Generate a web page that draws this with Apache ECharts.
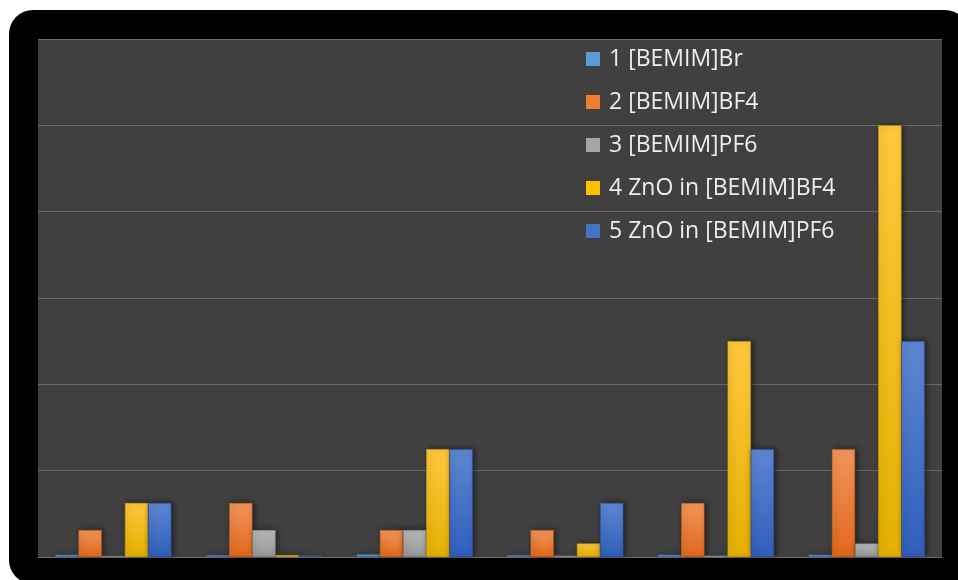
<!DOCTYPE html>
<html>
<head>
<meta charset="utf-8">
<script src="https://cdn.jsdelivr.net/npm/echarts@6/dist/echarts.min.js"></script>
<style>
  html, body { margin: 0; padding: 0; background: #ffffff; }
  #frame { position: absolute; left: 9px; top: 10px; width: 960px; height: 574px; background: #000; border-radius: 24px; }
  #chart { position: absolute; left: 0; top: 0; width: 958px; height: 580px; }
</style>
</head>
<body>
<div id="frame"></div>
<div id="chart"></div>
<script>
// Sample groups along the x axis (labels are not shown)
const categories = ['A', 'B', 'C', 'D', 'E', 'F'];

// Series names and values per group
const seriesNames = ['1 [BEMIM]Br', '2 [BEMIM]BF4', '3 [BEMIM]PF6', '4 ZnO in [BEMIM]BF4', '5 ZnO in [BEMIM]PF6'];
const bemimBr      = [0.005, 0.004, 0.006, 0.004, 0.005, 0.005];
const bemimBF4     = [0.0625, 0.125, 0.0625, 0.0625, 0.125, 0.25];
const bemimPF6     = [0.002, 0.0625, 0.0625, 0.003, 0.003, 0.03125];
const znoInBF4     = [0.125, 0.004, 0.25, 0.03125, 0.5, 1.0];
const znoInPF6     = [0.125, 0.003, 0.25, 0.125, 0.25, 0.5];
const seriesValues = [bemimBr, bemimBF4, bemimPF6, znoInBF4, znoInPF6];

// Fill colours: [top, bottom, legend swatch, outline]
const palette = [
  ['#6FA8DC', '#3F86C8', '#5B9BD5', '#3F7CB8'],
  ['#F2955C', '#E2681A', '#ED7D31', '#C9601A'],
  ['#B8B8B8', '#989898', '#A5A5A5', '#8C8C8C'],
  ['#FFC83C', '#E6B000', '#FFC000', '#D9A800'],
  ['#5E87D2', '#2F5EBC', '#4472C4', '#2E59A8']
];

const series = seriesNames.map((name, i) => ({
  name: name,
  type: 'bar',
  data: seriesValues[i],
  barGap: '0%',
  barCategoryGap: '23%',
  itemStyle: {
    color: new echarts.graphic.LinearGradient(0, 0, 0, 1, [
      { offset: 0, color: palette[i][0] },
      { offset: 1, color: palette[i][1] }
    ]),
    borderColor: palette[i][3],
    borderWidth: 0.6,
    shadowColor: 'rgba(0,0,0,0.55)',
    shadowBlur: 6,
    shadowOffsetX: 2,
    shadowOffsetY: 0
  }
}));

const chart = echarts.init(document.getElementById('chart'), null, { renderer: 'canvas' });
chart.setOption({
  animation: false,
  backgroundColor: 'transparent',
  grid: {
    left: 38, right: 16, top: 39, bottom: 23,
    show: true, backgroundColor: '#404040', borderWidth: 0
  },
  legend: {
    orient: 'vertical',
    left: 581,
    top: 41,
    itemWidth: 14,
    itemHeight: 14,
    itemGap: 17,
    icon: 'rect',
    data: seriesNames.map((n, i) => ({ name: n, itemStyle: { color: palette[i][2], borderWidth: 0, shadowBlur: 0 } })),
    textStyle: { color: '#EDEDED', fontSize: 23, lineHeight: 26, fontFamily: '"Open Sans", sans-serif', padding: [0, 0, 0, 4] }
  },
  xAxis: {
    type: 'category',
    data: categories,
    axisLine: { show: true, lineStyle: { color: '#6E6E6E', width: 1 } },
    axisTick: { show: false },
    axisLabel: { show: false }
  },
  yAxis: {
    type: 'value',
    min: 0,
    max: 1.2,
    interval: 0.2,
    axisLine: { show: false },
    axisTick: { show: false },
    axisLabel: { show: false },
    splitLine: { show: true, lineStyle: { color: '#6A6A6A', width: 1 } }
  },
  series: series
});
</script>
</body>
</html>
